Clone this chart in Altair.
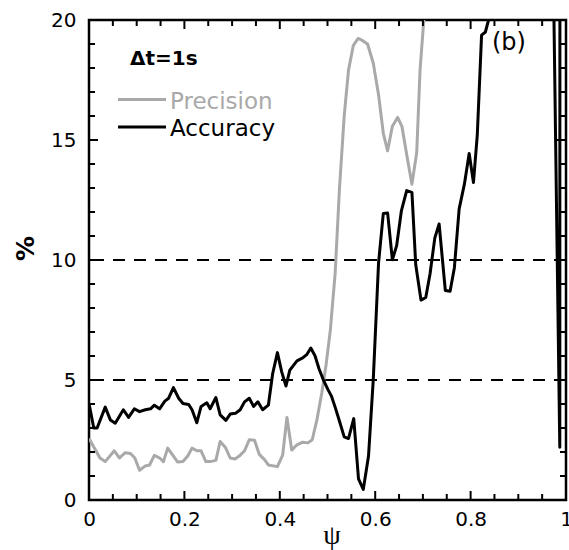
import altair as alt
import pandas as pd

# Accuracy (black) and Precision (grey) in % against psi
psi_acc = [0.0, 0.01, 0.017, 0.034, 0.045, 0.055, 0.072, 0.083, 0.095, 0.106,
           0.118, 0.129, 0.137, 0.148, 0.159, 0.167, 0.177, 0.188, 0.197, 0.209,
           0.216, 0.226, 0.235, 0.247, 0.254, 0.266, 0.275, 0.287, 0.296, 0.307,
           0.317, 0.326, 0.336, 0.345, 0.354, 0.364, 0.376, 0.385, 0.395, 0.404,
           0.413, 0.421, 0.436, 0.448, 0.457, 0.465, 0.474, 0.482, 0.492, 0.501,
           0.508, 0.516, 0.525, 0.535, 0.544, 0.555, 0.565, 0.575, 0.586, 0.596,
           0.607, 0.617, 0.626, 0.636, 0.645, 0.655, 0.666, 0.677, 0.685, 0.696,
           0.706, 0.715, 0.725, 0.734, 0.747, 0.757, 0.766, 0.776, 0.787, 0.797,
           0.806, 0.814, 0.823, 0.831, 0.838, 0.85, 0.97, 0.987, 0.99]
accuracy = [4.02, 3.0, 3.0, 3.87, 3.33, 3.2, 3.76, 3.44, 3.8, 3.68,
            3.76, 3.8, 3.95, 3.8, 4.12, 4.24, 4.68, 4.24, 4.02, 3.98,
            3.76, 3.22, 3.9, 4.05, 3.8, 4.27, 3.55, 3.32, 3.58, 3.61,
            3.76, 4.09, 4.24, 3.9, 4.09, 3.76, 3.95, 5.26, 6.14, 5.34,
            4.75, 5.41, 5.8, 5.92, 6.07, 6.33, 6.0, 5.48, 4.97, 4.6,
            4.34, 3.87, 3.29, 2.63, 2.56, 3.39, 0.88, 0.44, 1.83, 5.04,
            9.87, 11.94, 11.96, 10.01, 10.6, 12.06, 12.89, 12.82, 9.8, 8.33,
            8.44, 9.43, 10.92, 11.5, 8.73, 8.7, 9.68, 12.13, 13.16, 14.44,
            13.23, 15.2, 19.37, 19.5, 20.03, 24.0, 27.0, 2.2, 250.0]

psi_prec = [0.0, 0.023, 0.034, 0.053, 0.064, 0.076, 0.087, 0.096, 0.106, 0.118,
            0.127, 0.137, 0.148, 0.156, 0.165, 0.177, 0.186, 0.197, 0.207, 0.216,
            0.226, 0.235, 0.245, 0.254, 0.266, 0.275, 0.286, 0.296, 0.306, 0.315,
            0.326, 0.336, 0.347, 0.357, 0.368, 0.376, 0.395, 0.406, 0.415, 0.425,
            0.436, 0.448, 0.459, 0.468, 0.478, 0.488, 0.497, 0.506, 0.516, 0.525,
            0.535, 0.544, 0.554, 0.564, 0.573, 0.584, 0.596, 0.607, 0.617, 0.626,
            0.636, 0.647, 0.656, 0.666, 0.677, 0.687, 0.694, 0.702, 0.71]
precision = [2.56, 1.75, 1.6, 2.05, 1.75, 1.97, 1.94, 1.75, 1.24, 1.42,
             1.46, 1.86, 1.75, 1.6, 2.16, 1.83, 1.58, 1.6, 1.83, 2.16,
             2.05, 2.05, 1.6, 1.6, 1.65, 2.44, 2.19, 1.75, 1.71, 1.83,
             2.05, 2.51, 2.49, 1.9, 1.68, 1.46, 1.39, 1.87, 3.44, 2.08,
             2.3, 2.41, 2.38, 2.51, 3.36, 4.46, 5.63, 7.09, 9.43, 12.94,
             16.0, 17.9, 18.93, 19.23, 19.15, 19.0, 18.2, 16.89, 15.28, 14.55,
             15.57, 15.94, 15.57, 14.4, 13.16, 14.47, 17.9, 20.03, 28.0]

# reference levels and axis ticks
dashed_levels = [5, 10]
x_labels = [0, 0.2, 0.4, 0.6, 0.8, 1]
y_labels = [0, 5, 10, 15, 20]
x_tick_positions = [i * 0.05 for i in range(21)]
y_tick_positions = list(range(21))

legend_names = ["Precision", "Accuracy"]
legend_colors = ["#a9a9a9", "#000000"]
annotation_left = "\u0394t=1s"
annotation_right = "(b)"

W, H = 477, 480
X0, X1, Y0, Y1 = 0.0, 1.0, 0.0, 20.0
FONT = "DejaVu Sans"

xs = alt.Scale(domain=[X0, X1], nice=False, zero=False)
ys = alt.Scale(domain=[Y0, Y1], nice=False, zero=False)

df_acc = pd.DataFrame({"psi": psi_acc, "val": accuracy})
df_prec = pd.DataFrame({"psi": psi_prec, "val": precision})
df_dash = pd.DataFrame({"lvl": dashed_levels})

# inward-pointing frame ticks, each one a two-point path (major ticks longer)
MAJOR_PX, MINOR_PX = 9, 6
dy_per_px = (Y1 - Y0) / H
dx_per_px = (X1 - X0) / W
pts = []
sid = 0
for t in x_tick_positions:
    ln = MAJOR_PX if any(abs(t - m) < 1e-9 for m in x_labels) else MINOR_PX
    for ya, yb in ((Y0, Y0 + ln * dy_per_px), (Y1, Y1 - ln * dy_per_px)):
        pts += [(sid, 0, t, ya), (sid, 1, t, yb)]
        sid += 1
for t in y_tick_positions:
    ln = MAJOR_PX if t in y_labels else MINOR_PX
    for xa, xb in ((X0, X0 + ln * dx_per_px), (X1, X1 - ln * dx_per_px)):
        pts += [(sid, 0, xa, t), (sid, 1, xb, t)]
        sid += 1
df_ticks = pd.DataFrame(pts, columns=["seg", "k", "tx", "ty"])

base_axes = alt.Chart(df_acc).mark_line(opacity=0).encode(
    x=alt.X("psi:Q", scale=xs,
            axis=alt.Axis(values=x_labels, format="~g", title="\u03c8",
                          domain=False, ticks=False, grid=False,
                          labelFont=FONT, labelFontSize=20, labelColor="black",
                          labelPadding=9, labelFlush=False,
                          titleFont="Liberation Serif", titleFontSize=28,
                          titleFontWeight="normal", titleColor="black",
                          titleX=W / 2 + 4, titleY=35, titleBaseline="middle")),
    y=alt.Y("val:Q", scale=ys,
            axis=alt.Axis(values=y_labels, title="%",
                          domain=False, ticks=False, grid=False,
                          labelFont=FONT, labelFontSize=20, labelColor="black",
                          labelPadding=13, labelFlush=False,
                          titleFont=FONT, titleFontSize=25,
                          titleFontWeight="bold", titleColor="black",
                          titleAngle=-90, titleX=-64, titleY=228,
                          titleAlign="center", titleBaseline="middle")),
)

dashes = alt.Chart(df_dash).mark_rule(
    color="black", strokeWidth=2, strokeDash=[12, 9]
).encode(y=alt.Y("lvl:Q", scale=ys))

prec_line = alt.Chart(df_prec).mark_line(
    color=legend_colors[0], strokeWidth=3, clip=True, strokeJoin="round"
).encode(x=alt.X("psi:Q", scale=xs), y=alt.Y("val:Q", scale=ys))

acc_line = alt.Chart(df_acc).mark_line(
    color=legend_colors[1], strokeWidth=3, clip=True, strokeJoin="round"
).encode(x=alt.X("psi:Q", scale=xs), y=alt.Y("val:Q", scale=ys))

tick_marks = alt.Chart(df_ticks).mark_line(
    color="black", strokeWidth=2, strokeCap="butt"
).encode(
    x=alt.X("tx:Q", scale=xs),
    y=alt.Y("ty:Q", scale=ys),
    detail="seg:N",
    order="k:Q",
)

# legend drawn inside the frame
leg_df = pd.DataFrame({"name": legend_names, "color": legend_colors})
leg_lines = []
leg_texts = []
for i, (name, col) in enumerate(zip(legend_names, legend_colors)):
    row = leg_df.iloc[[i]]
    leg_lines.append(
        alt.Chart(row).mark_rule(color=col, strokeWidth=3).encode(
            x=alt.value(29), x2=alt.value(77), y=alt.value(79.5 + 27.5 * i)))
    leg_texts.append(
        alt.Chart(row).mark_text(
            align="left", baseline="alphabetic", font=FONT, fontSize=23,
            color=col).encode(
            text="name:N", x=alt.value(81), y=alt.value(88.5 + 27.5 * i)))

label_dt = alt.Chart(pd.DataFrame({"t": [annotation_left]})).mark_text(
    align="left", baseline="alphabetic", font=FONT, fontSize=20,
    fontWeight="bold", color="black"
).encode(text="t:N", x=alt.value(41), y=alt.value(45))

label_b = alt.Chart(pd.DataFrame({"t": [annotation_right]})).mark_text(
    align="left", baseline="alphabetic", font=FONT, fontSize=24,
    color="black"
).encode(text="t:N", x=alt.value(403), y=alt.value(30))

chart = alt.layer(
    base_axes, dashes, prec_line, acc_line, tick_marks, *leg_lines, *leg_texts,
    label_dt, label_b
).properties(
    width=W, height=H,
    padding={"left": 89, "top": 20, "right": 3, "bottom": 50},
    autosize=alt.AutoSizeParams(type="none"),
    background="white",
).configure_view(stroke="black", strokeWidth=2.5)

chart.save("out.html", embed_options={"renderer": "svg", "actions": False})
